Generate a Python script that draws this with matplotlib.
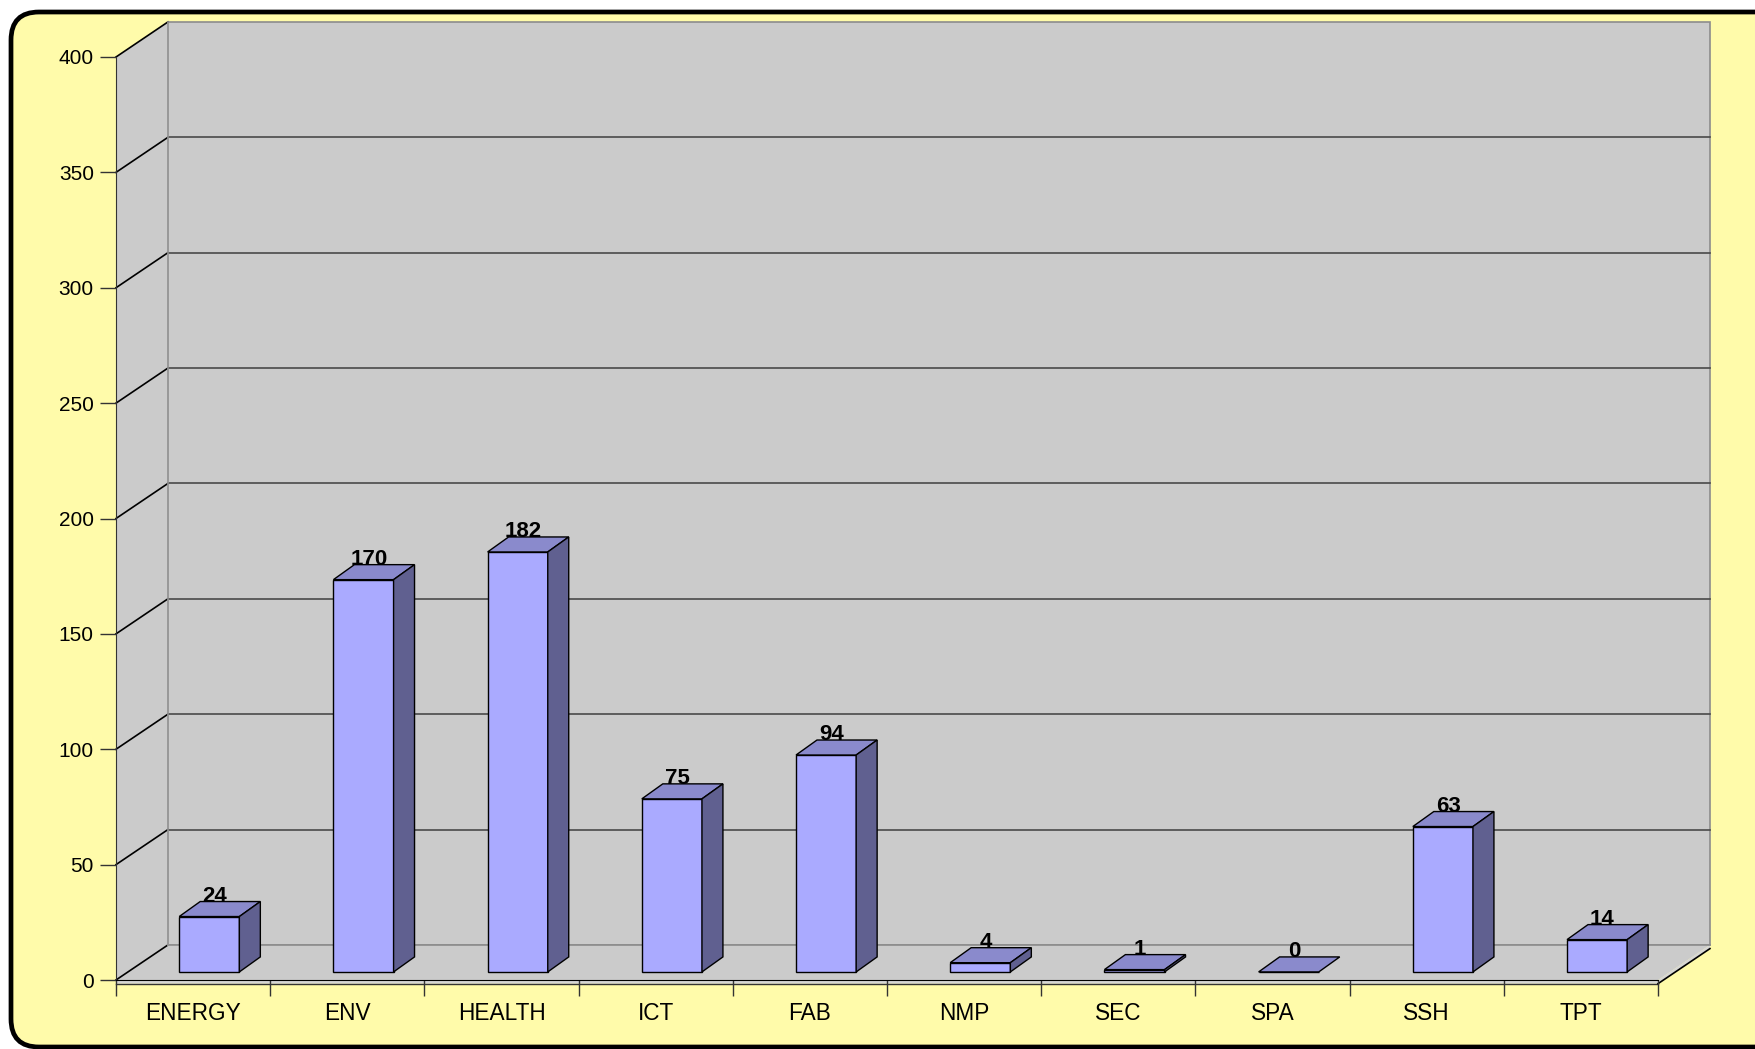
import matplotlib
matplotlib.use("Agg")
import matplotlib.pyplot as plt
from matplotlib.patches import FancyBboxPatch, Polygon
from matplotlib.transforms import IdentityTransform

plt.rcParams["font.family"] = ["Liberation Sans", "DejaVu Sans"]

# ---- data ----
categories = ["ENERGY", "ENV", "HEALTH", "ICT", "FAB", "NMP", "SEC", "SPA", "SSH", "TPT"]
values = [24, 170, 182, 75, 94, 4, 1, 0, 63, 14]
yticks = [0, 50, 100, 150, 200, 250, 300, 350, 400]

W, H = 1756, 1049
fig = plt.figure(figsize=(W / 100, H / 100), dpi=100)
fig.patch.set_facecolor("white")

# rounded yellow frame (pixel coords), right side runs off the image
frame = FancyBboxPatch((11, 2), 1772, 1035, boxstyle="round,pad=0,rounding_size=28",
                       transform=IdentityTransform(), facecolor="#FFFBAA",
                       edgecolor="black", lw=3.4, zorder=0)
fig.add_artist(frame)

# front plane of the 3D box
ax = fig.add_axes([116 / W, 69 / H, 1542 / W, 923 / H])
ax.set_xlim(0, len(categories))
ax.set_ylim(0, 400)
ax.patch.set_alpha(0)

n = len(categories)
dx, dy = 0.337, 15.2          # depth of the box (data units)
wall = "#CBCBCB"

# walls + floor
side = Polygon([(0, 0), (0, 400), (dx, 400 + dy), (dx, dy)], closed=True,
               facecolor=wall, edgecolor="none", clip_on=False, zorder=0.5)
back = Polygon([(dx, dy), (n + dx, dy), (n + dx, 400 + dy), (dx, 400 + dy)], closed=True,
               facecolor=wall, edgecolor="#8C8C8C", lw=1.2, clip_on=False, zorder=0.5)
floor = Polygon([(0, 0), (n, 0), (n + dx, dy), (dx, dy)], closed=True,
                facecolor=wall, edgecolor="none", clip_on=False, zorder=0.6)
slab = Polygon([(0, -1.6), (n, -1.6), (n + dx, dy - 1.6), (n + dx, dy), (n, 0), (0, 0)],
               closed=True, facecolor="#D6D6D6", edgecolor="none", clip_on=False, zorder=0.6)
for p in (side, back, floor, slab):
    ax.add_patch(p)

# grid lines
for v in yticks[1:-1]:
    ax.plot([dx, n + dx], [v + dy, v + dy], color="#4A4A4A", lw=1.2, clip_on=False, zorder=1)
for v in yticks:
    ax.plot([0, dx], [v, v + dy], color="black", lw=1.2, clip_on=False, zorder=1)
ax.plot([dx, n + dx], [dy, dy], color="#8C8C8C", lw=1.2, clip_on=False, zorder=1)
ax.plot([dx, dx], [dy, 400 + dy], color="#9A9A9A", lw=1.2, clip_on=False, zorder=1)
ax.plot([0, n], [-1.6, -1.6], color="#333333", lw=1, clip_on=False, zorder=1)
ax.plot([n, n + dx], [-1.6, dy - 1.6], color="black", lw=1.2, clip_on=False, zorder=1)

# bars
bw, boff = 0.39, 0.41
base = 3.5
ddx, ddy = 0.136, 6.5
pos = [i + boff + bw / 2 for i in range(n)]
bars = ax.bar(pos, values, width=bw, bottom=base, color="#AAAAFF",
              edgecolor="black", lw=1, zorder=4)
for rect, v in zip(bars, values):
    x0 = rect.get_x()
    x1 = x0 + rect.get_width()
    top = base + v
    ax.add_patch(Polygon([(x0, top), (x1, top), (x1 + ddx, top + ddy), (x0 + ddx, top + ddy)],
                         closed=True, facecolor="#8A8ACC", edgecolor="black", lw=1, zorder=4.1))
    if v > 0:
        ax.add_patch(Polygon([(x1, base), (x1, top), (x1 + ddx, top + ddy), (x1 + ddx, base + ddy)],
                             closed=True, facecolor="#606090", edgecolor="black", lw=1, zorder=4.1))
    ax.text(x0 + bw / 2 + 0.035, top + ddy, str(v), ha="center", va="baseline",
            fontsize=16, fontweight="bold", color="black", zorder=6)

# axes look
for s in ("top", "right"):
    ax.spines[s].set_visible(False)
ax.spines["left"].set_color("#333333")
ax.spines["bottom"].set_color("black")
ax.spines["left"].set_zorder(2)
ax.spines["bottom"].set_zorder(2)

ax.set_yticks(yticks)
ax.set_yticklabels([str(v) for v in yticks])
ax.tick_params(axis="y", direction="out", length=11.5, width=1, color="#333333",
               pad=4.5, labelsize=15)

ax.set_xticks([i + 0.5 for i in range(n)])
ax.set_xticklabels(categories)
ax.set_xticks(list(range(n + 1)), minor=True)
ax.tick_params(axis="x", which="major", length=0, pad=15.5, labelsize=16.3)
ax.tick_params(axis="x", which="minor", direction="out", length=11.5, width=1, color="#333333")

fig.savefig("out.png", dpi=100, facecolor=fig.get_facecolor())
